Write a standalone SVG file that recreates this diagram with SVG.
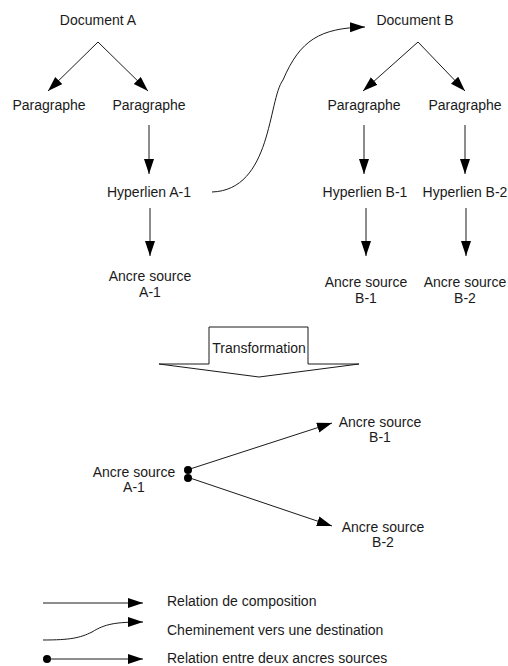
<svg xmlns="http://www.w3.org/2000/svg" width="508" height="666" viewBox="0 0 508 666">
  <style>
    text { font-family: "Liberation Sans", Arial, sans-serif; font-size: 14px; fill: #1a1a1a; }
    .c { text-anchor: middle; }
    .ln { fill: none; stroke: #1a1a1a; stroke-width: 1; }
    .arr { marker-end: url(#head); }
    .blk { fill: #fff; stroke: #1a1a1a; stroke-width: 1; }
  </style>
  <defs>
    <marker id="head" markerUnits="userSpaceOnUse" markerWidth="16" markerHeight="11" refX="15" refY="5" orient="auto">
      <path d="M0,0 L15,5 L0,10 Z" fill="#000"/>
    </marker>
  </defs>
  <rect width="508" height="666" fill="#fff"/>

  <!-- connectors -->
  <g id="connectors">
    <!-- document A -->
    <line class="ln arr" x1="98" y1="42" x2="48" y2="91"/>
    <line class="ln arr" x1="98" y1="42" x2="148" y2="91"/>
    <line class="ln arr" x1="149" y1="125" x2="149" y2="174"/>
    <line class="ln arr" x1="150" y1="208" x2="150" y2="256"/>
    <!-- hyperlink path A-1 to document B -->
    <path class="ln arr" d="M212,192 C272,190 268,100 283,80 C300,40 320,28 365,27"/>
    <!-- document B -->
    <line class="ln arr" x1="418" y1="42" x2="363" y2="91"/>
    <line class="ln arr" x1="418" y1="42" x2="465" y2="91"/>
    <line class="ln arr" x1="364" y1="125" x2="364" y2="174"/>
    <line class="ln arr" x1="465" y1="125" x2="465" y2="174"/>
    <line class="ln arr" x1="366" y1="208" x2="366" y2="256"/>
    <line class="ln arr" x1="466" y1="208" x2="466" y2="256"/>
    <!-- anchors after transformation -->
    <line class="ln arr" x1="190" y1="469" x2="332" y2="423"/>
    <line class="ln arr" x1="190" y1="478" x2="332" y2="526"/>
    <circle cx="188" cy="470" r="4" fill="#000"/>
    <circle cx="188" cy="478" r="4" fill="#000"/>
  </g>

  <!-- transformation block arrow -->
  <g id="transformation">
    <path class="blk" d="M209,327 H308 V364 H359 L259,377 L159,364 H209 Z"/>
    <text class="c" x="259" y="353">Transformation</text>
  </g>

  <!-- top nodes -->
  <g id="docA"><text class="c" x="98" y="25">Document A</text></g>
  <g id="paraA1"><text class="c" x="49" y="110">Paragraphe</text></g>
  <g id="paraA2"><text class="c" x="149" y="110">Paragraphe</text></g>
  <g id="hyperA1"><text class="c" x="149" y="197">Hyperlien A-1</text></g>
  <g id="ancreA1"><text class="c" x="150" y="281">Ancre source</text><text class="c" x="150" y="297">A-1</text></g>

  <g id="docB"><text class="c" x="415" y="25">Document B</text></g>
  <g id="paraB1"><text class="c" x="364" y="110">Paragraphe</text></g>
  <g id="paraB2"><text class="c" x="465" y="110">Paragraphe</text></g>
  <g id="hyperB1"><text class="c" x="365" y="197">Hyperlien B-1</text></g>
  <g id="hyperB2"><text class="c" x="465" y="197">Hyperlien B-2</text></g>
  <g id="ancreB1"><text class="c" x="366" y="287">Ancre source</text><text class="c" x="366" y="303">B-1</text></g>
  <g id="ancreB2"><text class="c" x="465" y="287">Ancre source</text><text class="c" x="465" y="303">B-2</text></g>

  <!-- bottom nodes -->
  <g id="ancreA1b"><text class="c" x="134" y="477">Ancre source</text><text class="c" x="134" y="492">A-1</text></g>
  <g id="ancreB1b"><text class="c" x="380" y="427">Ancre source</text><text class="c" x="380" y="442">B-1</text></g>
  <g id="ancreB2b"><text class="c" x="383" y="532">Ancre source</text><text class="c" x="383" y="547">B-2</text></g>

  <!-- legend -->
  <g id="legend">
    <line class="ln arr" x1="43" y1="603" x2="143" y2="603"/>
    <text x="167" y="606">Relation de composition</text>
    <path class="ln arr" d="M43,640 C70,640 80,638 92,632 C105,624 115,622 143,622"/>
    <text x="167" y="635">Cheminement vers une destination</text>
    <circle cx="47" cy="659" r="4" fill="#000"/>
    <line class="ln arr" x1="47" y1="659" x2="143" y2="659"/>
    <text x="167" y="663">Relation entre deux ancres sources</text>
  </g>
</svg>
